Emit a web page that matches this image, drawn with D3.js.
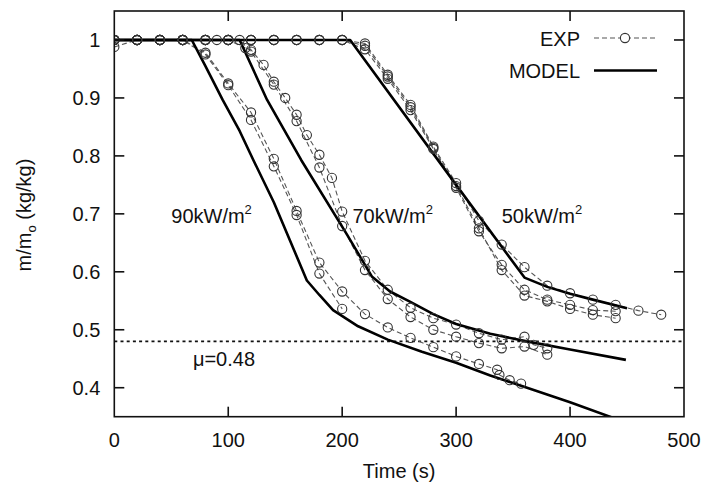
<!DOCTYPE html>
<html><head><meta charset="utf-8">
<script src="https://cdn.jsdelivr.net/npm/d3@7"></script>
<style>
body{margin:0;background:#fff;}
svg text{font-family:"Liberation Sans",Arial,Helvetica,sans-serif;fill:#111;}
</style></head>
<body><svg id="c" width="707" height="487"></svg>
<script>
// ---- data ----
const xTicks = [0,100,200,300,400,500];
const yTicks = [0.4,0.5,0.6,0.7,0.8,0.9,1];
const yTickLabels = ["0.4","0.5","0.6","0.7","0.8","0.9","1"];

// experimental series (time s, m/m0)
const exp90aT = [0,20,40,60,80,100,120,140,160,180,200,220,240,260,280,300,320,336,338,347,357];
const exp90aV = [1,1,1,1,0.978,0.925,0.875,0.795,0.705,0.616,0.566,0.527,0.504,0.486,0.47,0.454,0.441,0.431,0.422,0.413,0.407];
const exp90bT = [0,20,40,60,80,100,120,140,160,180,200];
const exp90bV = [0.988,1,1,1,0.975,0.922,0.862,0.782,0.698,0.597,0.536];

const exp70aT = [0,20,40,60,80,100,115,120,131,140,150,160,169,180,191,200,220,240,260,280,300,320,340,360,368,380];
const exp70aV = [1,1,1,1,1,1,0.986,0.983,0.957,0.928,0.9,0.871,0.836,0.802,0.762,0.704,0.619,0.569,0.538,0.52,0.509,0.494,0.483,0.488,0.474,0.468];
const exp70bT = [0,20,40,60,80,90,100,110,120,140,160,180,200,220,240,260,280,300,320,340,360,380];
const exp70bV = [1,1,1,1,1,1,1,1,0.98,0.923,0.86,0.78,0.679,0.603,0.553,0.522,0.5,0.488,0.477,0.468,0.471,0.457];

const exp50aT = [0,20,40,60,80,100,120,140,160,180,200,220,240,260,280,300,320,340,360,380,400,420,440,460,480];
const exp50aV = [1,1,1,1,1,1,1,1,1,1,1,0.994,0.94,0.888,0.816,0.753,0.688,0.647,0.608,0.576,0.563,0.552,0.543,0.533,0.526];
const exp50bT = [0,20,40,60,80,100,120,140,160,180,200,220,240,260,280,300,320,340,360,380,400,420,440];
const exp50bV = [1,1,1,1,1,1,1,1,1,1,1,0.984,0.933,0.879,0.812,0.745,0.67,0.612,0.569,0.552,0.543,0.534,0.532];
const exp50cT = [0,20,40,60,80,100,120,140,160,180,200,220,240,260,280,300,320,340,360,380,400,420,440];
const exp50cV = [1,1,1,1,1,1,1,1,1,1,1,0.99,0.937,0.884,0.814,0.748,0.675,0.603,0.559,0.549,0.536,0.526,0.52];

// model curves
const mod90T = [0,68,80,95,110,122,140,154,169,180,192,214,240,270,300,330,359,400,435,450];
const mod90V = [1,1,0.955,0.897,0.843,0.793,0.72,0.655,0.585,0.56,0.534,0.506,0.483,0.462,0.443,0.421,0.402,0.375,0.35,0.34];
const mod70T = [0,110,134,164,204,226,242,259,280,300,330,362,400,449];
const mod70V = [1,1,0.897,0.793,0.665,0.592,0.566,0.549,0.527,0.51,0.493,0.48,0.466,0.448];
const mod50T = [0,207,300,360,380,400,420,450];
const mod50V = [1,1,0.75,0.59,0.574,0.562,0.552,0.537];

const muValue = 0.48;
const muLabel = "μ=0.48";
const fluxLabels = [{t:"90kW/m",x:50},{t:"70kW/m",x:209},{t:"50kW/m",x:340}];
const fluxLabelY = 0.684;

// ---- drawing ----
const svg = d3.select("#c");
const L=114.3, R=684, T=11, B=416.7;
const x = d3.scaleLinear().domain([0,500]).range([L,R]);
const y = d3.scaleLinear().domain([0.35,1.05]).range([B,T]);

svg.append("defs").append("clipPath").attr("id","clip")
  .append("rect").attr("x",L).attr("y",T).attr("width",R-L).attr("height",B-T);

const zip=(ts,vs)=>ts.map((t,i)=>[t,vs[i]]);
const line = d3.line().x(d=>x(d[0])).y(d=>y(d[1]));

const plot = svg.append("g").attr("clip-path","url(#clip)");

// threshold line
plot.append("line").attr("x1",L).attr("x2",R).attr("y1",y(muValue)).attr("y2",y(muValue))
  .attr("stroke","#111").attr("stroke-width",1.6).attr("stroke-dasharray","3,3.2");

const exps = [[exp90aT,exp90aV],[exp90bT,exp90bV],[exp70aT,exp70aV],[exp70bT,exp70bV],[exp50aT,exp50aV],[exp50bT,exp50bV],[exp50cT,exp50cV]];
exps.forEach(([ts,vs])=>{
  const d = zip(ts,vs);
  plot.append("path").attr("d",line(d)).attr("fill","none")
    .attr("stroke","#555").attr("stroke-width",1.1).attr("stroke-dasharray","5,3");
});
const models = [[mod90T,mod90V],[mod70T,mod70V],[mod50T,mod50V]];
models.forEach(([ts,vs])=>{
  plot.append("path").attr("d",line(zip(ts,vs))).attr("fill","none")
    .attr("stroke","#000").attr("stroke-width",2.6).attr("stroke-linejoin","round");
});
exps.forEach(([ts,vs])=>{
  plot.selectAll(null).data(zip(ts,vs)).enter().append("circle")
    .attr("cx",d=>x(d[0])).attr("cy",d=>y(d[1])).attr("r",4.6)
    .attr("fill","none").attr("stroke","#333").attr("stroke-width",1.1);
});

// frame
svg.append("rect").attr("x",L).attr("y",T).attr("width",R-L).attr("height",B-T)
  .attr("fill","none").attr("stroke","#111").attr("stroke-width",1.6);

const tl=10;
const ax = svg.append("g");
xTicks.forEach(t=>{
  if(t>0 && t<500){
    ax.append("line").attr("x1",x(t)).attr("x2",x(t)).attr("y1",B).attr("y2",B-tl).attr("stroke","#111").attr("stroke-width",1.6);
    ax.append("line").attr("x1",x(t)).attr("x2",x(t)).attr("y1",T).attr("y2",T+tl).attr("stroke","#111").attr("stroke-width",1.6);
  }
  ax.append("text").attr("x",x(t)).attr("y",B+30).attr("text-anchor","middle").attr("font-size",20).text(t);
});
yTicks.forEach((v,i)=>{
  ax.append("line").attr("x1",L).attr("x2",L+tl).attr("y1",y(v)).attr("y2",y(v)).attr("stroke","#111").attr("stroke-width",1.6);
  ax.append("line").attr("x1",R).attr("x2",R-tl).attr("y1",y(v)).attr("y2",y(v)).attr("stroke","#111").attr("stroke-width",1.6);
  ax.append("text").attr("x",L-14).attr("y",y(v)).attr("dy","0.36em").attr("text-anchor","end").attr("font-size",20).text(yTickLabels[i]);
});

// axis titles
svg.append("text").attr("x",x(250)).attr("y",478).attr("text-anchor","middle").attr("font-size",20).text("Time (s)");
const yt = svg.append("text").attr("transform","translate(31,215) rotate(-90)").attr("text-anchor","middle").attr("font-size",20);
yt.append("tspan").text("m/m");
yt.append("tspan").attr("font-size",13).attr("dy",5).text("o");
yt.append("tspan").attr("dy",-5).text(" (kg/kg)");

// flux labels
fluxLabels.forEach(f=>{
  const t = svg.append("text").attr("x",x(f.x)).attr("y",y(fluxLabelY)).attr("font-size",20);
  t.append("tspan").text(f.t);
  t.append("tspan").attr("font-size",13).attr("dy",-9).text("2");
});
svg.append("text").attr("x",x(69)).attr("y",y(0.437)).attr("font-size",20).text(muLabel);

// legend
const lg = svg.append("g");
lg.append("text").attr("x",580).attr("y",46).attr("text-anchor","end").attr("font-size",20).text("EXP");
lg.append("line").attr("x1",594).attr("x2",657).attr("y1",38).attr("y2",38).attr("stroke","#555").attr("stroke-width",1.1).attr("stroke-dasharray","5,3");
lg.append("circle").attr("cx",625).attr("cy",38).attr("r",4.6).attr("fill","#fff").attr("stroke","#333").attr("stroke-width",1.1);
lg.append("text").attr("x",580).attr("y",78).attr("text-anchor","end").attr("font-size",20).text("MODEL");
lg.append("line").attr("x1",594).attr("x2",657).attr("y1",70.5).attr("y2",70.5).attr("stroke","#000").attr("stroke-width",2.6);
</script></body></html>
